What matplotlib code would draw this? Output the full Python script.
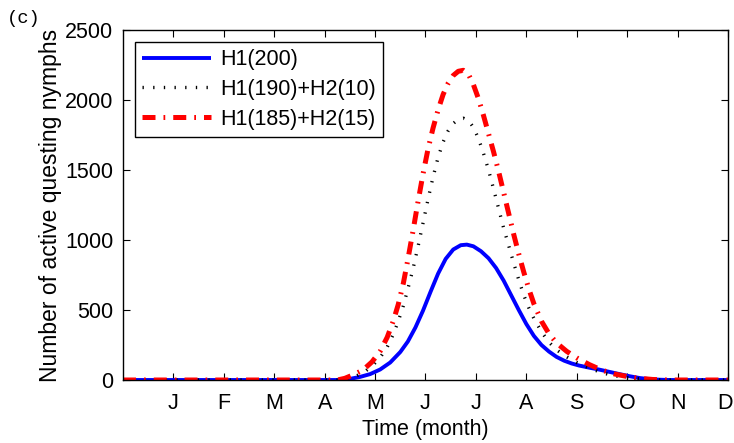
import matplotlib
matplotlib.use("Agg")
import matplotlib.pyplot as plt
import matplotlib.transforms as mtransforms

plt.rcParams['font.family'] = ['Liberation Sans', 'DejaVu Sans']

month_labels = ['J', 'F', 'M', 'A', 'M', 'J', 'J', 'A', 'S', 'O', 'N', 'D']
month_ticks = [1, 2, 3, 4, 5, 6, 7, 8, 9, 10, 11, 12]

# H1(200)
t_blue = [0.0, 4.31, 4.50, 4.70, 4.90, 5.10, 5.30, 5.50, 5.65, 5.80, 5.95, 6.10, 6.25,
          6.40, 6.55, 6.70, 6.82, 6.95, 7.10, 7.25, 7.40, 7.55, 7.70, 7.85, 8.00, 8.15,
          8.30, 8.45, 8.60, 8.75, 8.90, 9.05, 9.25, 9.45, 9.65, 9.85, 10.05, 10.25,
          10.45, 10.65, 10.85, 12.0]
y_blue = [0, 0, 8, 22, 42, 75, 125, 200, 275, 375, 495, 630, 760,
          865, 932, 963, 967, 955, 920, 870, 800, 710, 605, 500, 400, 315,
          250, 203, 165, 138, 118, 103, 88, 74, 58, 42, 27, 14,
          6, 2, 0, 0]

# H1(190)+H2(10)
t_black = [0.0, 4.30, 4.45, 4.60, 4.76, 4.94, 5.10, 5.24, 5.36, 5.46, 5.56, 5.65, 5.75,
           5.85, 5.95, 6.05, 6.15, 6.25, 6.35, 6.45, 6.55, 6.65, 6.75, 6.85, 6.95, 7.05,
           7.15, 7.25, 7.35, 7.45, 7.55, 7.65, 7.75, 7.85, 7.95, 8.05, 8.15, 8.30, 8.45,
           8.60, 8.80, 9.00, 9.25, 9.50, 9.75, 10.00, 10.25, 10.50, 10.80, 12.0]
y_black = [0, 0, 8, 25, 50, 100, 160, 235, 325, 420, 530, 650, 790,
           950, 1120, 1290, 1450, 1590, 1700, 1780, 1832, 1862, 1870, 1855, 1805, 1725,
           1620, 1500, 1365, 1225, 1085, 960, 835, 715, 605, 515, 440, 345, 270,
           215, 165, 125, 85, 52, 30, 17, 8, 2, 0, 0]

# H1(185)+H2(15)
t_red = [0.0, 4.25, 4.40, 4.56, 4.76, 4.94, 5.10, 5.24, 5.36, 5.46, 5.56, 5.65, 5.75,
         5.85, 5.95, 6.05, 6.15, 6.25, 6.35, 6.45, 6.55, 6.65, 6.75, 6.85, 6.95, 7.05,
         7.15, 7.25, 7.35, 7.45, 7.55, 7.65, 7.75, 7.85, 7.95, 8.05, 8.15, 8.30, 8.45,
         8.60, 8.80, 9.00, 9.25, 9.50, 9.75, 10.00, 10.25, 10.50, 10.80, 12.0]
y_red = [0, 0, 12, 36, 71, 130, 205, 305, 420, 540, 690, 860, 1060,
         1270, 1470, 1650, 1800, 1930, 2040, 2120, 2175, 2205, 2212, 2185, 2110, 2010,
         1890, 1760, 1630, 1490, 1340, 1190, 1040, 900, 770, 650, 545, 420, 330,
         265, 205, 158, 110, 70, 43, 25, 12, 4, 0, 0]

fig = plt.figure(figsize=(7.34, 4.43), dpi=100)
ax = fig.add_axes([0.1676, 0.1422, 0.9918 - 0.1676, 0.9323 - 0.1422])

ax.plot(t_blue, y_blue, color='#0000ff', lw=2.8, solid_capstyle='butt',
        solid_joinstyle='round', label='H1(200)')
ax.plot(t_black, y_black, color='black', lw=2.4, linestyle=(0, (0.4, 2.8)),
        dash_capstyle='butt', label='H1(190)+H2(10)')
ax.plot(t_red, y_red, color='#ff0000', lw=3.6, linestyle=(0, (2.6, 1.6, 0.35, 1.6)),
        dash_capstyle='butt', label='H1(185)+H2(15)')

ax.set_xlim(0, 12)
ax.set_ylim(0, 2500)
ax.set_xticks(month_ticks)
ax.set_xticklabels(month_labels)
ax.set_yticks([0, 500, 1000, 1500, 2000, 2500])
ax.tick_params(direction='in', top=True, right=True, length=5, width=0.8,
               labelsize=15.5)
ax.tick_params(axis='y', pad=7)
ax.tick_params(axis='x', pad=9)
for s in ax.spines.values():
    s.set_linewidth(1.0)

# nudge the last month label slightly left so it stays inside the figure
last = ax.get_xticklabels()[-1]
last.set_transform(last.get_transform() +
                   mtransforms.ScaledTranslation(-2.5 / 100, 0, fig.dpi_scale_trans))

ax.set_xlabel('Time (month)', fontsize=15.5, labelpad=4)
ax.set_ylabel('Number of active questing nymphs', fontsize=16.5, labelpad=2)

leg = ax.legend(loc='upper left', fontsize=15.5, frameon=True, fancybox=False,
                edgecolor='black', framealpha=1, handlelength=3.2, borderpad=0.35,
                labelspacing=0.4, handletextpad=0.4, borderaxespad=0.55)
leg.get_frame().set_linewidth(1.0)

fig.text(0.010, 0.978, '(c)', family='Liberation Mono', fontsize=13.5, va='top', ha='left')

fig.savefig('out.png', dpi=100)
